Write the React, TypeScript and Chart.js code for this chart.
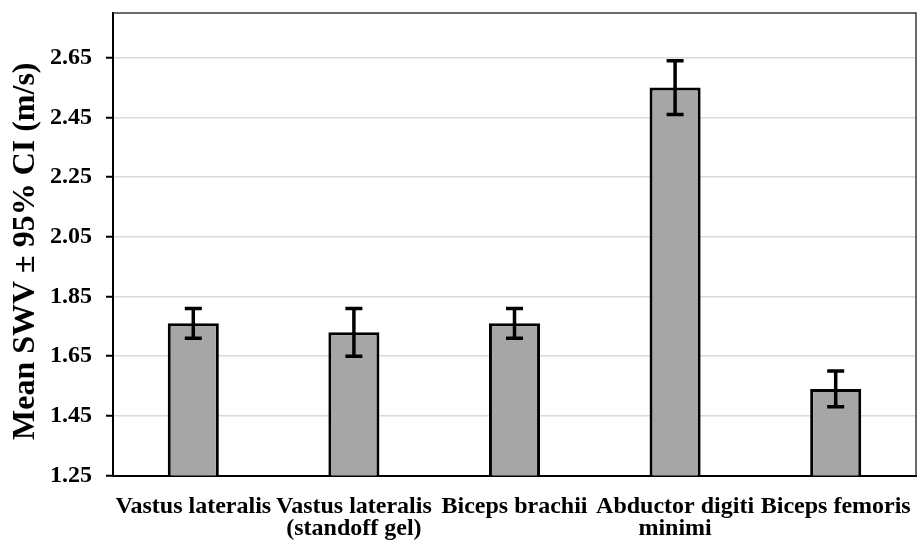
import React, { useEffect, useRef } from 'react';
import { Chart, registerables } from 'chart.js';

Chart.register(...registerables);

const categories: (string | string[])[] = [
  'Vastus lateralis',
  ['Vastus lateralis', '(standoff gel)'],
  'Biceps brachii',
  ['Abductor digiti', 'minimi'],
  'Biceps femoris',
];
const meanSWV = [1.76, 1.73, 1.76, 2.55, 1.54];
const ciLower = [1.71, 1.65, 1.71, 2.46, 1.48];
const ciUpper = [1.81, 1.81, 1.81, 2.64, 1.6];
const yTicks = [1.25, 1.45, 1.65, 1.85, 2.05, 2.25, 2.45, 2.65];
const yMin = 1.25;
const yMax = 2.8;
const yTitle = 'Mean SWV ± 95% CI (m/s)';

const FONT = '"Liberation Serif", "Times New Roman", serif';

const errorBarPlugin = {
  id: 'errorBars',
  afterDatasetsDraw(chart: any) {
    const ctx = chart.ctx;
    const xs = chart.scales.x;
    const ys = chart.scales.y;
    ctx.save();
    ctx.strokeStyle = '#000';
    ctx.lineWidth = 3.5;
    const cap = 8.5;
    meanSWV.forEach((_, i) => {
      const x = xs.getPixelForValue(i);
      const yt = ys.getPixelForValue(ciUpper[i]);
      const yb = ys.getPixelForValue(ciLower[i]);
      ctx.beginPath();
      ctx.moveTo(x, yt);
      ctx.lineTo(x, yb);
      ctx.moveTo(x - cap, yt);
      ctx.lineTo(x + cap, yt);
      ctx.moveTo(x - cap, yb);
      ctx.lineTo(x + cap, yb);
      ctx.stroke();
    });
    ctx.restore();
  },
};

const frameBorderPlugin = {
  id: 'frameBorder',
  beforeDatasetsDraw(chart: any) {
    const { ctx, chartArea } = chart;
    ctx.save();
    ctx.strokeStyle = '#3a3a3a';
    ctx.lineWidth = 1.5;
    ctx.beginPath();
    ctx.moveTo(chartArea.left, chartArea.top);
    ctx.lineTo(chartArea.right, chartArea.top);
    ctx.lineTo(chartArea.right, chartArea.bottom);
    ctx.stroke();
    ctx.restore();
  },
};

const yTitlePlugin = {
  id: 'yTitle',
  afterDraw(chart: any) {
    const { ctx, chartArea } = chart;
    ctx.save();
    ctx.translate(26, (chartArea.top + chartArea.bottom) / 2 + 7);
    ctx.rotate(-Math.PI / 2);
    ctx.font = `bold 32px ${FONT}`;
    ctx.fillStyle = '#000';
    ctx.textAlign = 'center';
    ctx.textBaseline = 'middle';
    ctx.fillText(yTitle, 0, 0);
    ctx.restore();
  },
};

export default function App() {
  const ref = useRef<HTMLCanvasElement | null>(null);

  useEffect(() => {
    if (!ref.current) return;
    const chart = new Chart(ref.current, {
      type: 'bar',
      data: {
        labels: categories as any,
        datasets: [
          {
            data: meanSWV,
            backgroundColor: '#a6a6a6',
            borderColor: '#000',
            borderWidth: 3,
            borderSkipped: false,
            barPercentage: 0.318,
            categoryPercentage: 1,
          },
        ],
      },
      options: {
        responsive: false,
        animation: false,
        layout: { padding: { top: 13, right: 1, bottom: 0, left: 0 } },
        plugins: {
          legend: { display: false },
          tooltip: { enabled: false },
        },
        scales: {
          x: {
            grid: { display: false, drawTicks: false },
            border: { display: true, color: '#000', width: 2 },
            ticks: {
              color: '#000',
              font: { family: FONT, size: 24, weight: 'bold', lineHeight: 0.93 },
              padding: 20,
              maxRotation: 0,
              minRotation: 0,
              autoSkip: false,
            },
            afterFit(scale: any) {
              scale.height = 70.5;
              scale.paddingLeft = 0;
              scale.paddingRight = 0;
            },
          },
          y: {
            min: yMin,
            max: yMax,
            afterBuildTicks(scale: any) {
              scale.ticks = yTicks.map((v) => ({ value: v }));
            },
            afterFit(scale: any) {
              scale.width = 113;
              scale.paddingTop = 0;
              scale.paddingBottom = 0;
            },
            grid: {
              color: '#d9d9d9',
              lineWidth: 1.5,
              tickColor: '#000',
              tickLength: 7,
              tickWidth: 2,
            },
            border: { display: true, color: '#000', width: 2 },
            ticks: {
              color: '#000',
              font: { family: FONT, size: 24, weight: 'bold' },
              padding: 14,
              callback: (v: any) => Number(v).toFixed(2),
            },
            title: { display: false },
          },
        },
      },
      plugins: [errorBarPlugin, frameBorderPlugin, yTitlePlugin],
    });
    return () => chart.destroy();
  }, []);

  return (
    <div style={{ position: 'fixed', left: 0, top: 0, width: 917, height: 546, background: '#fff' }}>
      <canvas ref={ref} width={917} height={546} style={{ display: 'block' }} />
    </div>
  );
}
